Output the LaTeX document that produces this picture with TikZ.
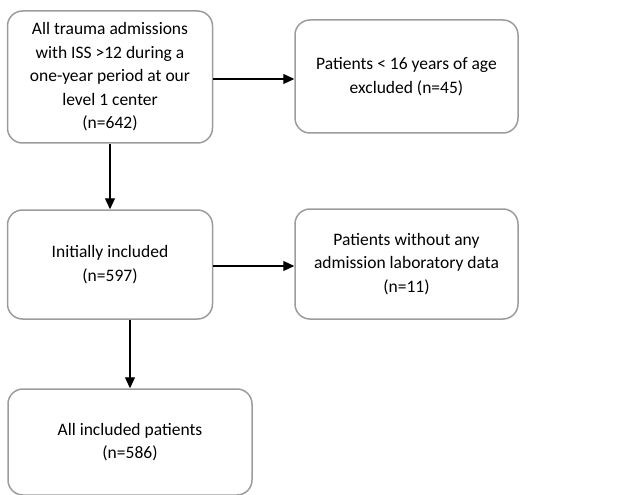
\documentclass[tikz,border=0pt]{standalone}
\usepackage{fontspec}
\setmainfont{Carlito}
\usetikzlibrary{arrows.meta}
\definecolor{boxgray}{HTML}{9C9C9C}
\tikzset{
  flowbox/.style={draw=boxgray, line width=1.5pt, rounded corners=15pt, align=center,
    font=\fontsize{17.5pt}{23.5pt}\selectfont, inner sep=0pt},
  flowarrow/.style={draw=black, line width=1.1pt, -{Triangle[length=11pt,width=10pt]}}
}
\begin{document}
\begin{tikzpicture}[x=1pt,y=1pt]
\useasboundingbox (0,0) rectangle (622,-495);
\node[flowbox, minimum width=205pt, minimum height=132pt] (b1) at (110,-77)
  {All trauma admissions\\with ISS >12 during a\\one-year period at our\\level 1 center\\(n=642)};
\node[flowbox, minimum width=223pt, minimum height=113pt] (b2) at (406.5,-76.5)
  {Patients < 16 years of age\\excluded (n=45)};
\node[flowbox, minimum width=205pt, minimum height=109pt] (b3) at (110,-264.5)
  {Initially included\\(n=597)};
\node[flowbox, minimum width=223pt, minimum height=110pt] (b4) at (406.5,-264)
  {Patients without any\\admission laboratory data\\(n=11)};
\node[flowbox, minimum width=244pt, minimum height=106pt] (b5) at (130,-442)
  {All included patients\\(n=586)};
\coordinate (a1) at (b1.east |- 0,-79);
\draw[flowarrow] (a1) -- (a1 -| b2.west);
\coordinate (a2) at (b3.east |- 0,-266);
\draw[flowarrow] (a2) -- (a2 -| b4.west);
\draw[flowarrow] (b1.south) -- (b3.north);
\draw[flowarrow] (b3.south -| b5.north) -- (b5.north);
\end{tikzpicture}
\end{document}
